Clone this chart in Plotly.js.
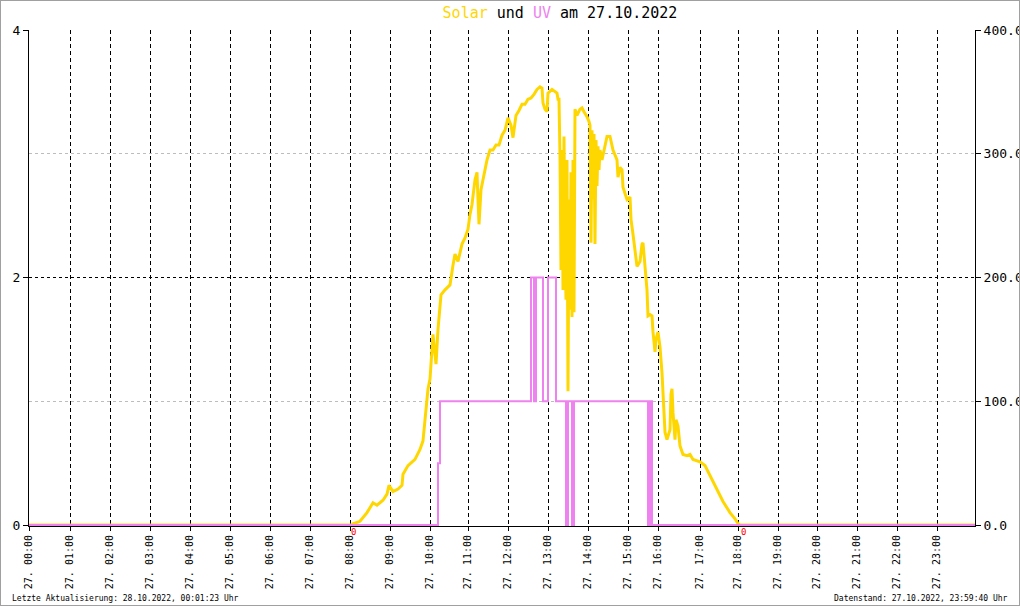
<!DOCTYPE html>
<html>
<head>
<meta charset="utf-8">
<script src="https://cdn.plot.ly/plotly-3.0.1.min.js"></script>
<style>
  html, body { margin: 0; padding: 0; background: #fff; }
  #wrap { width: 1018px; height: 604px; border: 1px solid #a0a0a0; }
</style>
</head>
<body>
<div id="wrap"><div id="chart" style="width:1018px;height:604px;"></div></div>
<script>
// x positions are sample indices of the original data logger (0 .. 946)
const hourTickIdx = [0, 41, 81, 121, 161, 201, 241, 281, 321, 361, 401, 439, 479, 519, 559, 599, 629, 671, 709, 749, 788, 828, 868, 908];
const hourTickText = ["27. 00:00","27. 01:00","27. 02:00","27. 03:00","27. 04:00","27. 05:00","27. 06:00","27. 07:00","27. 08:00","27. 09:00","27. 10:00","27. 11:00","27. 12:00","27. 13:00","27. 14:00","27. 15:00","27. 16:00","27. 17:00","27. 18:00","27. 19:00","27. 20:00","27. 21:00","27. 22:00","27. 23:00"];

// Solar radiation (W/m², right axis)
const solarIdx = [0, 323, 324, 331, 338, 344, 348, 354, 358, 360, 364, 369, 373, 374, 379, 386, 391, 394, 396, 398, 399, 401, 402, 403, 404, 406, 407, 409, 411, 412, 416, 421, 424, 426, 429, 433, 436, 439, 441, 443, 446, 448, 449, 450, 452, 455, 458, 461, 464, 467, 470, 473, 476, 479, 482, 484, 487, 490, 493, 496, 499, 502, 505, 508, 511, 513, 514, 516, 518, 519, 523, 528, 529, 530, 531, 532, 533, 534, 535, 536, 537, 538, 539, 540, 541, 542, 543, 544, 545, 546, 548, 551, 553, 555, 558, 560, 561, 562, 563, 564, 565, 566, 567, 568, 569, 570, 571, 573, 575, 578, 581, 584, 588, 589, 591, 593, 594, 598, 601, 602, 604, 606, 608, 611, 613, 614, 616, 618, 619, 621, 623, 624, 626, 627, 629, 631, 633, 634, 636, 638, 641, 642, 643, 644, 646, 647, 649, 651, 654, 658, 661, 664, 671, 676, 681, 688, 694, 701, 706, 709, 711, 946];
const solarVal = [0, 0, 1, 3, 10, 18, 16, 20, 25, 32, 27, 29, 32, 41, 48, 53, 61, 68, 85, 102, 110, 118, 130, 150, 154, 138, 130, 158, 182, 186, 190, 194, 210, 219, 213, 227, 232, 239, 251, 259, 279, 285, 263, 243, 271, 283, 295, 303, 303, 307, 307, 315, 319, 329, 323, 313, 331, 335, 340, 340, 344, 345, 348, 352, 354, 353, 341, 336, 334, 349, 352, 349, 344, 344, 298, 206, 303, 190, 314, 223, 182, 295, 108, 263, 174, 285, 168, 295, 172, 336, 331, 336, 337, 334, 330, 326, 323, 228, 319, 263, 316, 227, 311, 274, 306, 287, 303, 295, 303, 314, 314, 303, 295, 281, 289, 287, 273, 263, 265, 247, 235, 223, 209, 213, 227, 228, 206, 190, 169, 170, 169, 156, 140, 150, 156, 144, 123, 102, 75, 69, 77, 106, 110, 91, 69, 85, 80, 64, 57, 56, 57, 53, 51, 48, 40, 29, 19, 10, 5, 1, 0, 0];

// UV index (left axis), step values
const uvIdx = [0, 409, 411, 502, 505, 507, 514, 519, 527, 537, 539, 543, 545, 619, 621, 623, 946];
const uvVal = [0, 0.5, 1, 2, 1, 2, 1, 2, 1, 0, 1, 0, 1, 0, 1, 0, 0];

const titleText = "<span style='color:#FFD700'>Solar</span> und <span style='color:#EE82EE'>UV</span> am 27.10.2022";
const footerLeft = "Letzte Aktualisierung: 28.10.2022, 00:01:23 Uhr";
const footerRight = "Datenstand: 27.10.2022, 23:59:40 Uhr";
const sunMarks = [{idx: 324, label: "0"}, {idx: 714, label: "0"}];

const mono = "DejaVu Sans Mono, Liberation Mono, monospace";

// Solar on the base (right-side) axis, UV on the overlaying (left-side) axis so UV is drawn on top
const traces = [
  {
    x: solarIdx, y: solarVal, xaxis: 'x', yaxis: 'y', type: 'scatter', mode: 'lines',
    line: {color: '#FFD700', width: 3}, name: 'Solar', hoverinfo: 'skip'
  },
  {
    x: uvIdx, y: uvVal, xaxis: 'x', yaxis: 'y2', type: 'scatter', mode: 'lines',
    line: {color: '#EE82EE', width: 2, shape: 'hv'}, name: 'UV', hoverinfo: 'skip'
  }
];

const annotations = [
  {text: footerLeft, xref: 'paper', yref: 'paper', x: (10 - 29) / 946, y: (526 - 598) / 496,
   xanchor: 'left', yanchor: 'middle', showarrow: false, font: {family: mono, size: 8, color: '#000'}},
  {text: footerRight, xref: 'paper', yref: 'paper', x: (1010 - 29) / 946, y: (526 - 598) / 496,
   xanchor: 'right', yanchor: 'middle', showarrow: false, font: {family: mono, size: 8, color: '#000'}}
];
sunMarks.forEach(m => annotations.push({
  text: m.label, x: m.idx, y: 0, xref: 'x', yref: 'y', xanchor: 'center', yanchor: 'top',
  yshift: 0, showarrow: false, font: {family: mono, size: 9, color: '#ff0000'}
}));

const layout = {
  width: 1018, height: 604,
  margin: {l: 28, r: 44, t: 29, b: 79, pad: 0},
  paper_bgcolor: '#ffffff', plot_bgcolor: '#ffffff',
  showlegend: false,
  font: {family: mono, color: '#000'},
  title: {text: titleText, x: (560 - 29) / 946, xref: 'paper', xanchor: 'center',
          y: 1 - 12 / 604, yref: 'container', yanchor: 'middle',
          font: {family: mono, size: 15, color: '#000'}},
  xaxis: {
    range: [0, 946], tickmode: 'array', tickvals: hourTickIdx, ticktext: hourTickText,
    tickangle: -90, ticks: 'outside', ticklen: 4, tickcolor: '#000',
    tickfont: {family: mono, size: 10, color: '#000'},
    showline: true, linecolor: '#000', linewidth: 1,
    showgrid: true, gridcolor: '#000', gridwidth: 1, griddash: '4px,3px',
    zeroline: false, fixedrange: true
  },
  yaxis: {
    range: [-0.8, 400], side: 'right',
    tickmode: 'array', tickvals: [0, 100, 200, 300, 400], tickformat: '.1f',
    ticks: 'outside', ticklen: 5, tickcolor: '#000',
    tickfont: {family: mono, size: 13, color: '#000'},
    showline: true, linecolor: '#000', linewidth: 1,
    showgrid: false, zeroline: false, fixedrange: true
  },
  yaxis2: {
    range: [-0.008, 4], overlaying: 'y', side: 'left', anchor: 'x',
    tickmode: 'array', tickvals: [0, 2, 4], ticktext: ['0', '2', '4'],
    ticks: 'outside', ticklen: 5, tickcolor: '#000',
    tickfont: {family: mono, size: 13, color: '#000'},
    showline: true, linecolor: '#000', linewidth: 1,
    showgrid: true, gridcolor: '#000', gridwidth: 1, griddash: '3px,3px',
    minor: {tickmode: 'array', tickvals: [1, 3], showgrid: true, gridcolor: '#bdbdbd', griddash: '3px,3px', ticks: ''},
    zeroline: false, fixedrange: true
  },
  annotations: annotations
};

Plotly.newPlot('chart', traces, layout, {staticPlot: true, displayModeBar: false});
</script>
</body>
</html>
